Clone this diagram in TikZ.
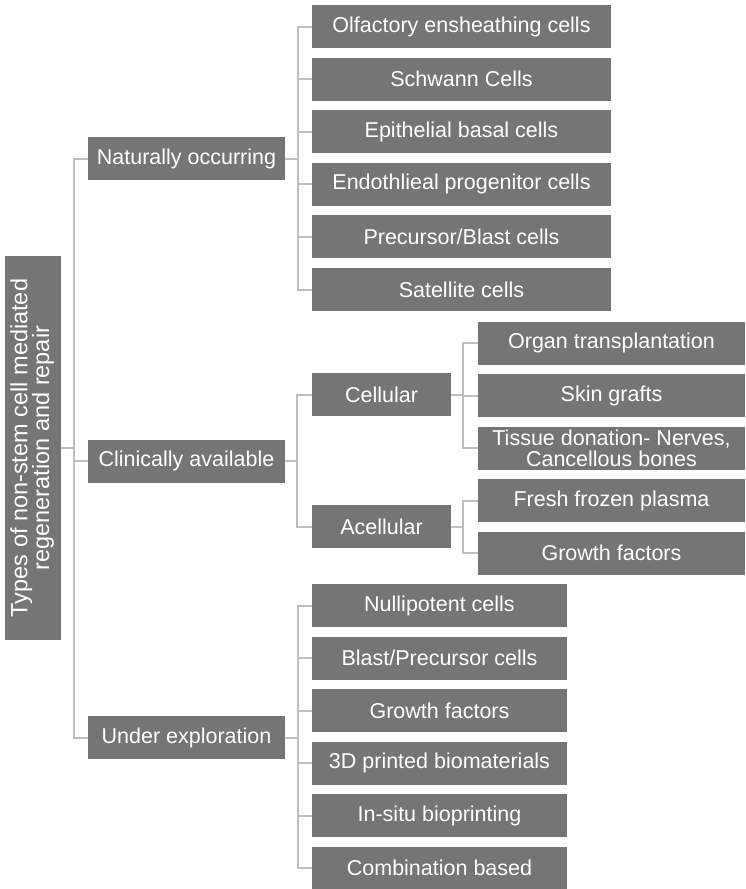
\documentclass[tikz,border=0pt]{standalone}
\usepackage{fontspec}
\setmainfont{Liberation Sans}
\usepackage{graphicx}
\usetikzlibrary{calc}
\definecolor{boxgray}{RGB}{117,117,117}
\definecolor{linegray}{RGB}{191,191,191}
\tikzset{
  box/.style={rectangle, fill=boxgray, text=white, inner sep=0pt, align=center,
    minimum height=43pt, font=\fontsize{21.5}{21}\selectfont},
  conn/.style={draw=linegray, line width=2pt},
}
\begin{document}
\begin{tikzpicture}[x=1pt,y=-1pt]
\useasboundingbox (0,0) rectangle (746,889);
% root
\node[box, minimum width=56pt, minimum height=384pt] (root) at (33,448)
  {\rotatebox{90}{\fontsize{23.5}{22}\selectfont\begin{tabular}{@{}c@{}}Types of non-stem cell mediated\\[-2pt]regeneration and repair\end{tabular}}};
% level 1
\node[box, minimum width=197pt] (nat) at (186.5,158.5) {Naturally occurring};
\node[box, minimum width=197pt] (clin) at (186.5,461) {Clinically available};
\node[box, minimum width=197pt] (under) at (186.5,737.5) {Under exploration};
% naturally occurring leaves
\node[box, minimum width=299pt] (n1) at (461.5,26.5) {Olfactory ensheathing cells};
\node[box, minimum width=299pt] (n2) at (461.5,79.1) {Schwann Cells};
\node[box, minimum width=299pt] (n3) at (461.5,131.7) {Epithelial basal cells};
\node[box, minimum width=299pt] (n4) at (461.5,184.3) {Endothlieal progenitor cells};
\node[box, minimum width=299pt] (n5) at (461.5,236.9) {Precursor/Blast cells};
\node[box, minimum width=299pt] (n6) at (461.5,289.5) {Satellite cells};
% clinically available
\node[box, minimum width=139pt] (cel) at (381.5,394.5) {Cellular};
\node[box, minimum width=139pt] (acel) at (381.5,526.5) {Acellular};
\node[box, minimum width=267pt] (c1) at (611.5,343) {Organ transplantation};
\node[box, minimum width=267pt] (c2) at (611.5,395.5) {Skin grafts};
\node[box, minimum width=267pt] (c3) at (611.5,448) {Tissue donation- Nerves,\\Cancellous bones};
\node[box, minimum width=267pt] (a1) at (611.5,500.5) {Fresh frozen plasma};
\node[box, minimum width=267pt] (a2) at (611.5,553) {Growth factors};
% under exploration leaves
\node[box, minimum width=255pt] (u1) at (439.5,605.5) {Nullipotent cells};
\node[box, minimum width=255pt] (u2) at (439.5,658) {Blast/Precursor cells};
\node[box, minimum width=255pt] (u3) at (439.5,710.5) {Growth factors};
\node[box, minimum width=255pt] (u4) at (439.5,763) {3D printed biomaterials};
\node[box, minimum width=255pt] (u5) at (439.5,815.5) {In-situ bioprinting};
\node[box, minimum width=255pt] (u6) at (439.5,868) {Combination based};
% junctions
\coordinate (j0) at ($(root.east)+(13,0)$);
\coordinate (j1) at ($(nat.east)+(13,0)$);
\coordinate (j2) at ($(clin.east)+(12,0)$);
\coordinate (j3) at ($(cel.east)+(12,0)$);
\coordinate (j4) at ($(acel.east)+(12,0)$);
\coordinate (j5) at ($(under.east)+(13,0)$);
% root connectors
\draw[conn] (root.east) -- (j0);
\draw[conn] (nat.west) -| (j0) |- (under.west);
\draw[conn] (j0 |- clin.west) -- (clin.west);
% naturally occurring connectors
\draw[conn] (nat.east) -- (j1);
\draw[conn] (n1.west) -| (j1) |- (n6.west);
\draw[conn] (j1 |- n2.west) -- (n2.west);
\draw[conn] (j1 |- n3.west) -- (n3.west);
\draw[conn] (j1 |- n4.west) -- (n4.west);
\draw[conn] (j1 |- n5.west) -- (n5.west);
% clinically available connectors
\draw[conn] (clin.east) -- (j2);
\draw[conn] (cel.west) -| (j2) |- (acel.west);
\draw[conn] (cel.east) -- (j3);
\draw[conn] (c1.west) -| (j3) |- (c3.west);
\draw[conn] (j3 |- c2.west) -- (c2.west);
\draw[conn] (acel.east) -- (j4);
\draw[conn] (a1.west) -| (j4) |- (a2.west);
% under exploration connectors
\draw[conn] (under.east) -- (j5);
\draw[conn] (u1.west) -| (j5) |- (u6.west);
\draw[conn] (j5 |- u2.west) -- (u2.west);
\draw[conn] (j5 |- u3.west) -- (u3.west);
\draw[conn] (j5 |- u4.west) -- (u4.west);
\draw[conn] (j5 |- u5.west) -- (u5.west);
\end{tikzpicture}
\end{document}
